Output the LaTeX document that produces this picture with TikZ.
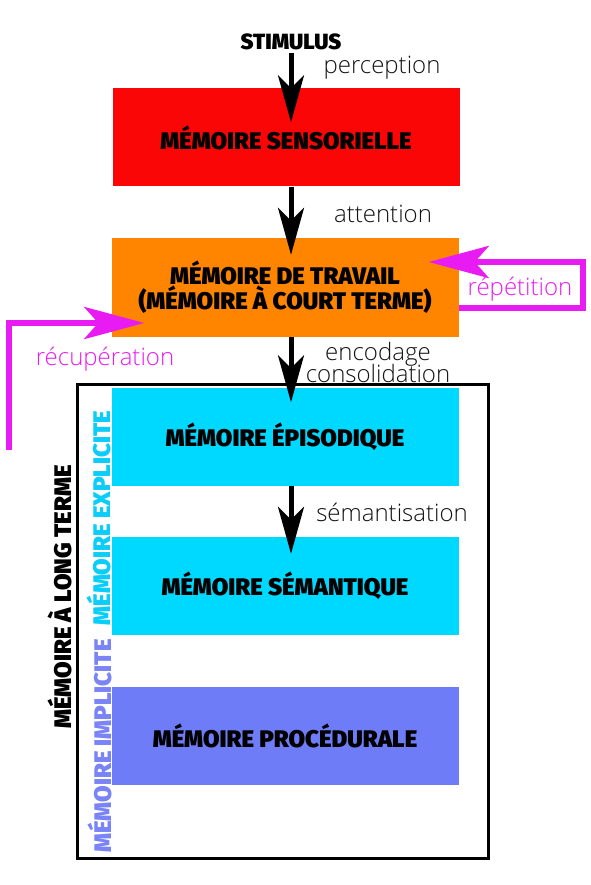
\documentclass[tikz,border=0pt]{standalone}
\usepackage{fontspec}
\usepackage{tikz}
\usetikzlibrary{arrows.meta}

\IfFontExistsTF{Fira Sans Black}
  {\newfontfamily\lourd{Fira Sans Black}}
  {\newfontfamily\lourd[UprightFont={* Bold}, FakeBold=2]{Fira Sans}}
\IfFontExistsTF{Open Sans Light}
  {\newfontfamily\fin{Open Sans Light}}
  {\newfontfamily\fin{Open Sans}}

\definecolor{rouge}{RGB}{250,6,6}
\definecolor{orangec}{RGB}{255,133,0}
\definecolor{cyanc}{RGB}{0,217,255}
\definecolor{pervenche}{RGB}{110,124,248}
\definecolor{magentac}{RGB}{232,28,242}
\definecolor{explic}{RGB}{10,205,250}
\definecolor{implic}{RGB}{122,132,246}
\definecolor{grisf}{RGB}{20,20,20}

\tikzset{
  boite/.style={minimum width=347pt, minimum height=98pt, inner sep=0pt, align=center,
    font=\lourd\fontsize{24}{25}\selectfont},
  titre/.style={inner sep=0pt, font=\lourd\fontsize{24}{25}\selectfont},
  etiq/.style={inner sep=0pt, text=grisf, align=center, font=\fin\fontsize{24}{21}\selectfont},
  fleche/.style={line width=5pt, -{Stealth[length=47pt,width=26pt,inset=13pt]}},
  boucle/.style={draw=magentac, line width=6pt, -{Stealth[length=60pt,width=32pt,inset=14pt]}},
}

\begin{document}
\begin{tikzpicture}[x=1pt,y=1pt,yscale=-1]
\useasboundingbox (0,0) rectangle (590,885);

%Shape: Rectangle [frame]
\draw [line width=3pt] (77,384) rectangle (488,858);

%Shape: Rectangles
\node [boite, fill=rouge] (sens) at (286,137.5) {MÉMOIRE SENSORIELLE};
\node [boite, fill=orangec, minimum height=99pt] (travail) at (285,287.5) {MÉMOIRE DE TRAVAIL\\(MÉMOIRE À COURT TERME)};
\node [boite, fill=cyanc] (episod) at (285,436.5) {MÉMOIRE ÉPISODIQUE};
\node [boite, fill=cyanc] (seman) at (285,586) {MÉMOIRE SÉMANTIQUE};
\node [boite, fill=pervenche] (proced) at (285,736) {MÉMOIRE PROCÉDURALE};

% Text Node
\node [titre, font=\lourd\fontsize{22}{22}\selectfont] (stim) at (291,42) {STIMULUS};
% Text Node
\node [titre, rotate=90] (longterme) at (60,597) {MÉMOIRE À LONG TERME};
% Text Node
\node [titre, rotate=90, text=explic] (explicite) at (99,518) {MÉMOIRE EXPLICITE};
% Text Node
\node [titre, rotate=90, text=implic] (implicite) at (100,746) {MÉMOIRE IMPLICITE};

%Straight Lines
\draw [fleche] ([yshift=3pt]stim.south) -- ([xshift=5pt,yshift=34pt]sens.north);
\draw [fleche] ([xshift=5pt]sens.south) -- ([xshift=6pt,yshift=17pt]travail.north);
\draw [fleche] ([xshift=6pt]travail.south) -- ([xshift=6pt,yshift=15pt]episod.north);
\draw [fleche] ([xshift=6pt]episod.south) -- ([xshift=6pt,yshift=17pt]seman.north);

%Loops
\coordinate (repcoin) at (583,262);
\draw [boucle] ([yshift=20.5pt]travail.east) -| (repcoin) -- ([xshift=-30pt,yshift=-25.5pt]travail.east);
\coordinate (recup) at (9,450);
\draw [boucle] (recup) |- ([xshift=33pt,yshift=35.5pt]travail.west);

% Text Node
\node [etiq] (perception) at (382,68) {perception};
% Text Node
\node [etiq] (attention) at (383,214) {attention};
% Text Node
\node [etiq, text=magentac] (repetition) at (520,289) {répétition};
% Text Node
\node [etiq, text=magentac] (recuperation) at (105,359) {récupération};
% Text Node
\node [etiq] (encodage) at (378,362) {encodage\\[-3pt]consolidation};
% Text Node
\node [etiq] (semantisation) at (392,512) {sémantisation};

\end{tikzpicture}
\end{document}
